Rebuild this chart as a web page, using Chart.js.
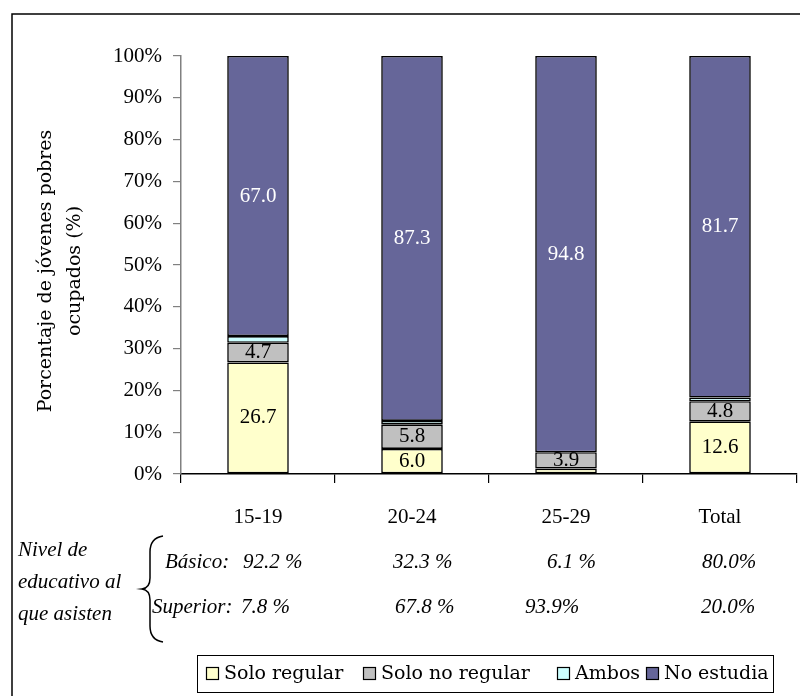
<!DOCTYPE html>
<html>
<head>
<meta charset="utf-8">
<script src="https://cdn.jsdelivr.net/npm/chart.js@4/dist/chart.umd.min.js"></script>
<style>
  html, body { margin: 0; padding: 0; background: #ffffff; }
  #wrap { width: 800px; height: 696px; position: relative; }
</style>
</head>
<body>
<div id="wrap"><canvas id="c" width="800" height="696"></canvas></div>
<script>
// Grupos de edad
const categories = ['15-19', '20-24', '25-29', 'Total'];

// Distribución de los jóvenes pobres ocupados según asistencia (%)
const soloRegular   = [26.7, 6.0, 1.3, 12.6];
const soloNoRegular = [4.7, 5.8, 3.9, 4.8];
const ambos         = [1.6, 0.9, 0.0, 0.9];
const noEstudia     = [67.0, 87.3, 94.8, 81.7];

const seriesNames = ['Solo regular', 'Solo no regular', 'Ambos', 'No estudia'];

// Nivel educativo al que asisten
const basicoLabels   = ['92.2 %', '32.3 %', '6.1 %', '80.0%'];
const superiorLabels = ['7.8 %', '67.8 %', '93.9%', '20.0%'];

const yTicks = [0, 10, 20, 30, 40, 50, 60, 70, 80, 90, 100];

const colors = ['#FFFFCC', '#C0C0C0', '#CCFFFF', '#666699'];
const labelColors = ['#000000', '#000000', '#000000', '#ffffff'];

const NUM_FONT = '"Liberation Serif", "Times New Roman", serif';
const TXT_FONT = '"DejaVu Serif", serif';

const seriesData = [soloRegular, soloNoRegular, ambos, noEstudia];

const datasets = seriesData.map((d, i) => ({
  label: seriesNames[i],
  data: d,
  backgroundColor: colors[i],
  borderColor: '#000000',
  borderWidth: 1.6,
  borderSkipped: false,
  barPercentage: 0.4,
  categoryPercentage: 1.0
}));

// Etiquetas de valor centradas en cada segmento
const valueLabels = {
  id: 'valueLabels',
  afterDatasetsDraw(chart) {
    const ctx = chart.ctx;
    ctx.save();
    ctx.font = '21px ' + NUM_FONT;
    ctx.textAlign = 'center';
    ctx.textBaseline = 'middle';
    chart.data.datasets.forEach((ds, di) => {
      const meta = chart.getDatasetMeta(di);
      meta.data.forEach((bar, i) => {
        const v = ds.data[i];
        if (v < 2) return;
        const p = bar.getProps(['x', 'y', 'base'], true);
        ctx.fillStyle = labelColors[di];
        ctx.fillText(v.toFixed(1), p.x, (p.y + p.base) / 2);
      });
    });
    ctx.restore();
  }
};

// Marco, título del eje, bloque de nivel educativo y leyenda
const decorations = {
  id: 'decorations',
  afterDraw(chart) {
    const ctx = chart.ctx;
    ctx.save();

    // marco exterior
    ctx.strokeStyle = '#000000';
    ctx.lineWidth = 1.5;
    ctx.beginPath();
    ctx.moveTo(12, 696);
    ctx.lineTo(12, 14);
    ctx.lineTo(800, 14);
    ctx.stroke();

    // título del eje Y
    ctx.fillStyle = '#000000';
    ctx.font = '19px ' + TXT_FONT;
    ctx.textAlign = 'center';
    ctx.textBaseline = 'middle';
    ctx.save();
    ctx.translate(46, 271);
    ctx.rotate(-Math.PI / 2);
    ctx.fillText('Porcentaje de jóvenes pobres', 0, 0);
    ctx.restore();
    ctx.save();
    ctx.translate(75, 271);
    ctx.rotate(-Math.PI / 2);
    ctx.fillText('ocupados (%)', 0, 0);
    ctx.restore();

    // bloque de nivel educativo
    ctx.font = 'italic 21px ' + NUM_FONT;
    ctx.textAlign = 'left';
    ctx.fillText('Nivel de', 18, 550);
    ctx.fillText('educativo al', 18, 582);
    ctx.fillText('que asisten', 18, 614);

    ctx.fillText('Básico:', 165, 562);
    ctx.fillText('Superior:', 152, 607);
    const bx = [243, 393, 547, 702];
    const sx = [241, 395, 525, 701];
    basicoLabels.forEach((t, i) => ctx.fillText(t, bx[i], 562));
    superiorLabels.forEach((t, i) => ctx.fillText(t, sx[i], 607));

    // llave
    ctx.lineWidth = 1.5;
    ctx.beginPath();
    ctx.moveTo(163, 536);
    ctx.quadraticCurveTo(150, 538, 150, 552);
    ctx.lineTo(150, 578);
    ctx.quadraticCurveTo(150, 588, 142, 589);
    ctx.quadraticCurveTo(150, 590, 150, 600);
    ctx.lineTo(150, 626);
    ctx.quadraticCurveTo(150, 640, 163, 642);
    ctx.stroke();

    // leyenda
    ctx.lineWidth = 1;
    ctx.strokeRect(197.5, 655.5, 576, 37);
    const lx = [206, 363, 557, 646];
    ctx.font = '19px ' + TXT_FONT;
    ctx.textBaseline = 'middle';
    chart.data.datasets.forEach((ds, i) => {
      ctx.fillStyle = ds.backgroundColor;
      ctx.fillRect(lx[i] + 0.5, 667.5, 12, 12);
      ctx.strokeStyle = '#000000';
      ctx.lineWidth = 1.2;
      ctx.strokeRect(lx[i] + 0.5, 667.5, 12, 12);
      ctx.fillStyle = '#000000';
      ctx.fillText(ds.label, lx[i] + 18, 674);
    });

    ctx.restore();
  }
};

new Chart(document.getElementById('c'), {
  type: 'bar',
  data: { labels: categories, datasets: datasets },
  options: {
    responsive: false,
    animation: false,
    devicePixelRatio: 1,
    layout: { padding: { top: 56, right: 3, bottom: 172, left: 0 } },
    plugins: {
      legend: { display: false },
      tooltip: { enabled: false },
      title: { display: false }
    },
    scales: {
      x: {
        stacked: true,
        afterFit(scale) { scale.height = 50; },
        border: { color: '#000000', width: 1.5 },
        grid: {
          offset: true,
          drawOnChartArea: false,
          drawTicks: true,
          tickLength: 9,
          color: '#000000',
          lineWidth: 1.2
        },
        ticks: {
          color: '#000000',
          font: { family: NUM_FONT, size: 21 },
          padding: 22,
          maxRotation: 0
        }
      },
      y: {
        stacked: true,
        min: 0,
        max: 100,
        afterFit(scale) { scale.width = 181; },
        afterBuildTicks(scale) { scale.ticks = yTicks.map(v => ({ value: v })); },
        border: { color: '#808080', width: 1.5 },
        grid: {
          drawOnChartArea: false,
          drawTicks: true,
          tickLength: 8,
          color: '#808080',
          lineWidth: 1.2
        },
        ticks: {
          color: '#000000',
          font: { family: NUM_FONT, size: 21 },
          padding: 11,
          callback: v => v + '%'
        }
      }
    }
  },
  plugins: [valueLabels, decorations]
});
</script>
</body>
</html>
